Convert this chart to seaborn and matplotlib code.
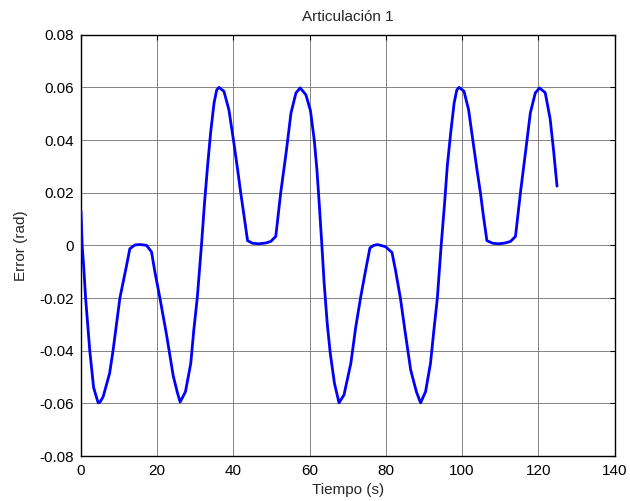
import matplotlib
matplotlib.use("Agg")
import matplotlib.pyplot as plt
import seaborn as sns
import numpy as np

# Joint 1 tracking error over time
tiempo = [
    0.0, 0.3, 0.7, 1.2, 2.3, 3.3, 4.5, 5.0, 5.8, 7.5, 8.4, 10.2, 11.9, 12.8,
    14.2, 15.6, 17.2, 18.5, 19.4, 20.7, 22.4, 24.2, 25.3, 26.0, 27.4, 28.8,
    29.6, 30.5, 31.6, 32.4, 33.2, 34.0, 34.9, 35.6, 36.2, 37.5, 38.8, 40.0,
    41.1, 41.9, 42.8, 43.7, 45.0, 46.7, 48.5, 49.8, 51.1, 51.7, 52.4, 53.8,
    55.1, 56.4, 57.5, 59.0, 60.2, 61.2, 61.9, 62.5, 63.2, 63.8, 64.6, 65.4,
    66.5, 67.7, 69.0, 70.8, 72.1, 73.4, 74.7, 75.8, 76.8, 77.8, 79.9, 81.6,
    82.5, 83.8, 85.1, 86.5, 88.0, 89.1, 90.4, 91.7, 92.6, 93.5, 94.5, 95.4,
    96.1, 97.0, 97.9, 98.6, 99.2, 100.5, 101.7, 102.8, 103.9, 104.8, 105.6,
    106.5, 108.0, 109.6, 111.3, 112.7, 114.0, 114.6, 115.3, 116.6, 117.9,
    119.2, 120.3, 121.8, 123.1, 124.0, 124.9,
]
error_rad = [
    0.013, 0.0, -0.008, -0.02, -0.04, -0.054, -0.0598, -0.0595, -0.0575,
    -0.0486, -0.04, -0.02, -0.008, -0.0013,
    0.0002, 0.0003, 0.0, -0.0025, -0.0102, -0.02, -0.0336, -0.0496, -0.056,
    -0.0595, -0.0556, -0.0448,
    -0.0321, -0.02, 0.0, 0.016, 0.030, 0.0427, 0.054, 0.059, 0.060, 0.0585,
    0.0515, 0.04,
    0.0287, 0.02, 0.011, 0.0018, 0.0008, 0.0006, 0.0009, 0.0015, 0.0034,
    0.011, 0.02, 0.035,
    0.0503, 0.0579, 0.0598, 0.0572, 0.0512, 0.04, 0.0287, 0.016, 0.0,
    -0.0144, -0.0296, -0.041,
    -0.0524, -0.0598, -0.0568, -0.0448, -0.0309, -0.0195, -0.0093, -0.001,
    0.0, 0.0003, -0.0005, -0.0027,
    -0.0093, -0.02, -0.0334, -0.0473, -0.0556, -0.0598, -0.0556, -0.0448,
    -0.0321, -0.02, 0.0, 0.016,
    0.030, 0.0427, 0.054, 0.059, 0.060, 0.0585, 0.0515, 0.04, 0.0287, 0.02,
    0.011,
    0.0018, 0.0008, 0.0006, 0.0009, 0.0015, 0.0034, 0.011, 0.02, 0.035,
    0.0503,
    0.0579, 0.0598, 0.058, 0.048, 0.036, 0.0225,
]

x_ticks = [0, 20, 40, 60, 80, 100, 120, 140]
y_ticks = [-0.08, -0.06, -0.04, -0.02, 0, 0.02, 0.04, 0.06, 0.08]
y_labels = ["-0.08", "-0.06", "-0.04", "-0.02", "0", "0.02", "0.04", "0.06", "0.08"]

sns.set_style("white")
plt.rcParams["font.family"] = ["Liberation Sans", "DejaVu Sans"]
fs = 11

fig = plt.figure(figsize=(6.3, 5.01), dpi=100)
ax = fig.add_axes([0.1286, 0.0898, 0.8469, 0.8409])

sns.lineplot(x=tiempo, y=error_rad, ax=ax, color="#0000ff", linewidth=2.0,
             sort=False, zorder=3)

ax.set_xlim(0, 140)
ax.set_ylim(-0.08, 0.08)
ax.set_xticks(x_ticks)
ax.set_xticklabels([str(v) for v in x_ticks])
ax.set_yticks(y_ticks)
ax.set_yticklabels(y_labels)

ax.grid(True, color="#707070", linewidth=0.6, linestyle="-")
ax.set_axisbelow(True)
for s in ax.spines.values():
    s.set_color("black")
    s.set_linewidth(1.0)
    s.set_visible(True)
ax.tick_params(direction="in", top=True, right=True, length=3.6, width=0.8,
               labelsize=fs, colors="black", pad=5)
ax.tick_params(axis="x", pad=6)

ax.set_title("Articulación 1", fontsize=fs, pad=10)
ax.set_xlabel("Tiempo (s)", fontsize=fs, labelpad=3)
ax.set_ylabel("Error (rad)", fontsize=fs, labelpad=8)

fig.savefig("out.png", dpi=100, facecolor="white")
